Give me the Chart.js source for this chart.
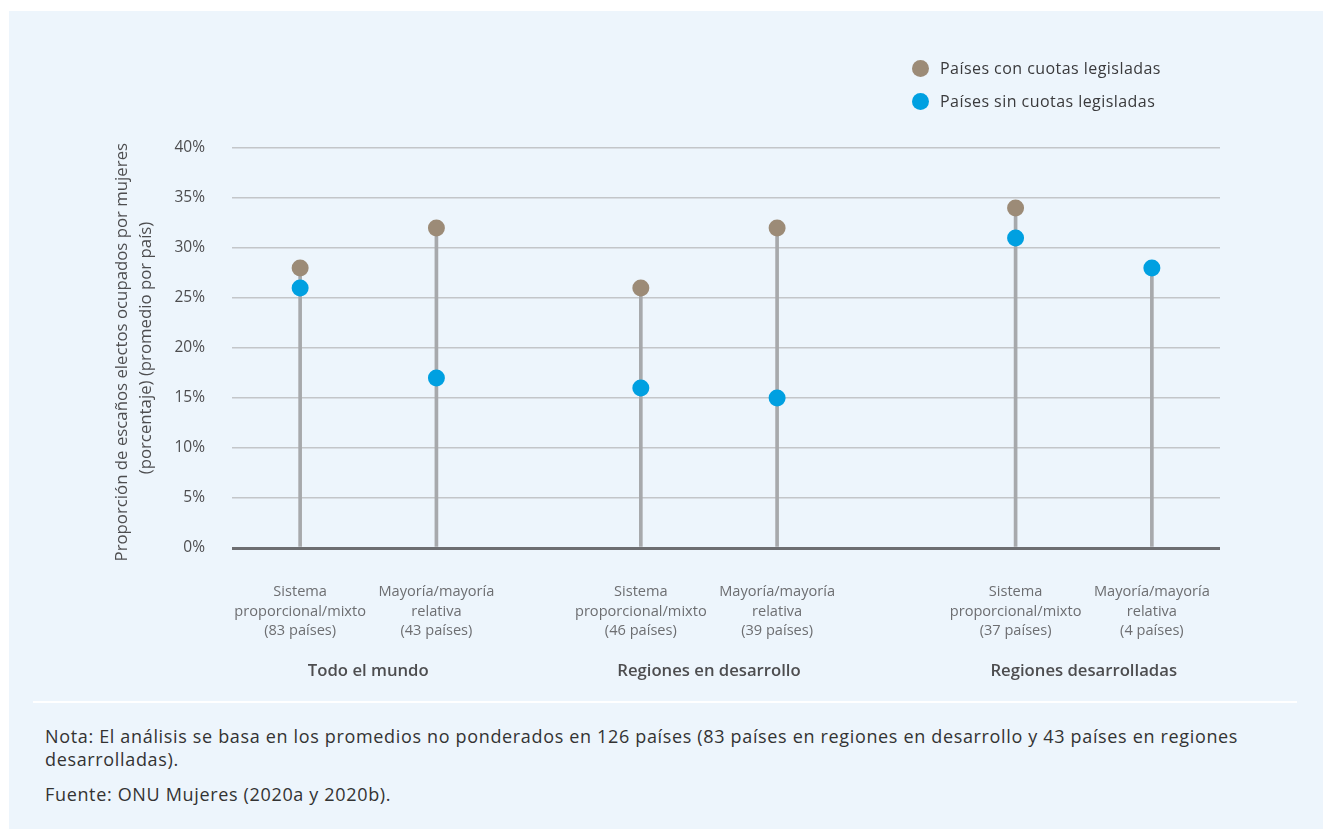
<!DOCTYPE html>
<html lang="es">
<head>
<meta charset="utf-8">
<title>Escaños ocupados por mujeres</title>
<script src="https://cdn.jsdelivr.net/npm/chart.js@4.4.1/dist/chart.umd.min.js"></script>
<style>
  body { margin: 0; background: #fff; font-family: "Open Sans", sans-serif; }
  #panel { position: absolute; left: 9px; top: 11px; width: 1314px; height: 818px; background: #edf5fc; }
  #chartBox { position: absolute; left: 0; top: 0; width: 1314px; height: 690px; }
  #legend { position: absolute; left: 903px; top: 46px; font-size: 16px; letter-spacing: 0.45px; color: #3a3a3c; }
  #legend div { height: 33px; line-height: 22px; white-space: nowrap; }
  #legend span.dot { display: inline-block; width: 17px; height: 17px; border-radius: 50%;
    vertical-align: -3px; margin-right: 11px; }
  .sep { position: absolute; left: 24px; top: 690px; width: 1264px; height: 2px; background: #fff; }
  #notes { position: absolute; left: 36px; top: 714px; font-size: 18px; letter-spacing: 0.66px; line-height: 23px; color: #333; }
  #notes p { margin: 0 0 12px 0; white-space: nowrap; }
</style>
</head>
<body>
<div id="panel">
  <div id="chartBox"><canvas id="myChart"></canvas></div>
  <div id="legend"></div>
  <div class="sep"></div>
  <div id="notes">
    <p>Nota: El análisis se basa en los promedios no ponderados en 126 países (83 países en regiones en desarrollo y 43 países en regiones<br>desarrolladas).</p>
    <p>Fuente: ONU Mujeres (2020a y 2020b).</p>
  </div>
</div>
<script>
// data (% of seats held by women)
var categories = [
  ["Sistema", "proporcional/mixto", "(83 países)"],
  ["Mayoría/mayoría", "relativa", "(43 países)"],
  ["Sistema", "proporcional/mixto", "(46 países)"],
  ["Mayoría/mayoría", "relativa", "(39 países)"],
  ["Sistema", "proporcional/mixto", "(37 países)"],
  ["Mayoría/mayoría", "relativa", "(4 países)"]
];
var groups = ["Todo el mundo", "Regiones en desarrollo", "Regiones desarrolladas"];
var conCuotas = [28, 32, 26, 32, 34, null];
var sinCuotas = [26, 17, 16, 15, 31, 28];
var seriesNames = ["Países con cuotas legisladas", "Países sin cuotas legisladas"];
var yTicks = [0, 5, 10, 15, 20, 25, 30, 35, 40];

// layout: category axis split in equal slots so the gaps between groups come out right
var slotCount = 30;
var catSlot = [2, 6, 12, 16, 23, 27];
var groupSlot = [4, 14, 25];

var brown = "#9c8b77";
var blue = "#00a0e1";
var font = "Open Sans";

function spread(values, slots, empty) {
  var out = [];
  for (var i = 0; i < slotCount; i++) out.push(empty);
  for (var j = 0; j < slots.length; j++) out[slots[j]] = values[j];
  return out;
}

var stems = categories.map(function (c, i) {
  return Math.max(conCuotas[i] || 0, sinCuotas[i] || 0);
});

var ctx = document.getElementById('myChart').getContext('2d');
var myChart = new Chart(ctx, {
  data: {
    labels: spread(categories, catSlot, ""),
    datasets: [
      {
        type: 'bar',
        label: 'stem',
        data: spread(stems, catSlot, null),
        backgroundColor: "#a7a9ac",
        barThickness: 3,
        order: 3
      },
      {
        type: 'line',
        label: seriesNames[0],
        data: spread(conCuotas, catSlot, null),
        showLine: false,
        pointRadius: 8.5,
        pointBorderWidth: 0,
        pointBackgroundColor: brown,
        backgroundColor: brown,
        order: 2
      },
      {
        type: 'line',
        label: seriesNames[1],
        data: spread(sinCuotas, catSlot, null),
        showLine: false,
        pointRadius: 8.5,
        pointBorderWidth: 0,
        pointBackgroundColor: blue,
        backgroundColor: blue,
        order: 1
      }
    ]
  },
  options: {
    responsive: true,
    maintainAspectRatio: false,
    animation: false,
    layout: { padding: { left: 101, right: 103, top: 137, bottom: 0 } },
    plugins: {
      legend: { display: false },
      tooltip: { enabled: false }
    },
    scales: {
      y: {
        min: 0,
        max: 40,
        afterFit: function (scale) { scale.width = 122; },
        afterBuildTicks: function (scale) {
          scale.ticks = yTicks.map(function (v) { return { value: v }; });
        },
        border: { display: false },
        grid: {
          drawTicks: false,
          color: function (c) { return c.tick.value === 0 ? "#6d6e71" : "#c3c6c9"; },
          lineWidth: function (c) { return c.tick.value === 0 ? 3 : 1.5; }
        },
        ticks: {
          padding: 27,
          color: "#4d4d4f",
          font: { family: font, size: 15.5 },
          callback: function (v) { return v + "%"; }
        },
        title: {
          display: true,
          // trailing en space nudges the first line down a little, as in the original
          text: ["Proporción de escaños electos ocupados por mujeres\u2002", "(porcentaje) (promedio por país)"],
          color: "#4d4d4f",
          font: { family: font, size: 16.8, lineHeight: 1.45 },
          padding: 0
        }
      },
      x: {
        type: 'category',
        offset: false,
        weight: 0,
        afterFit: function (scale) { scale.height = 92; },
        border: { display: false },
        grid: { display: false, drawTicks: false },
        ticks: {
          autoSkip: false,
          maxRotation: 0,
          padding: 34,
          color: "#6d6e71",
          font: { family: font, size: 14.6, lineHeight: 1.35 }
        }
      },
      x2: {
        type: 'category',
        position: 'bottom',
        offset: false,
        weight: 1,
        labels: spread(groups, groupSlot, ""),
        afterFit: function (scale) { scale.height = 61; },
        border: { display: false },
        grid: { display: false, drawTicks: false },
        ticks: {
          autoSkip: false,
          maxRotation: 0,
          padding: 21,
          color: "#4d4d4f",
          font: { family: font, size: 16.7, weight: "600", lineHeight: 1.2 }
        }
      }
    }
  }
});

// legend drawn in html, two stacked rows like the original
var legend = document.getElementById('legend');
myChart.data.datasets.slice(1).forEach(function (ds) {
  var row = document.createElement('div');
  var dot = document.createElement('span');
  dot.className = 'dot';
  dot.style.background = ds.pointBackgroundColor;
  row.appendChild(dot);
  row.appendChild(document.createTextNode(ds.label));
  legend.appendChild(row);
});
</script>
</body>
</html>
